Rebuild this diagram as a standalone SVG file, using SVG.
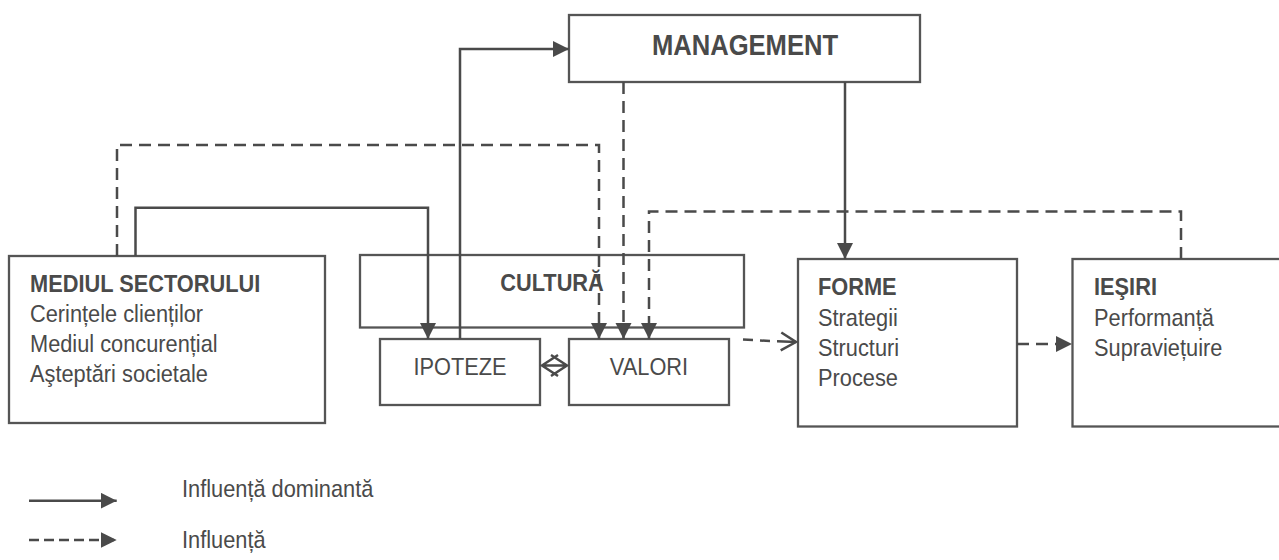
<svg xmlns="http://www.w3.org/2000/svg" width="1279" height="560" viewBox="0 0 1279 560">
<defs>
<style>
.box{fill:#fff;stroke:#555;stroke-width:2.3}
.ln{fill:none;stroke:#4a4a4a;stroke-width:2.5}
.ds{stroke-dasharray:12 7}
.lds{stroke-dasharray:10 5}
.t{font-family:"Liberation Sans",Arial,sans-serif;font-size:21.8px;fill:#4a4a4a}
.b{font-weight:bold}
.m{text-anchor:middle}
</style>
<marker id="ah" markerUnits="userSpaceOnUse" markerWidth="18" markerHeight="17" refX="16" refY="8" orient="auto">
<path d="M0,0 L16,8 L0,16 z" fill="#4a4a4a"/>
</marker>
<marker id="oa" markerUnits="userSpaceOnUse" markerWidth="20" markerHeight="22" refX="16" refY="10" orient="auto">
<path d="M1,1 L16,10 L1,19" fill="none" stroke="#4a4a4a" stroke-width="2.5"/>
</marker>
</defs>
<rect width="1279" height="560" fill="#fff"/>

<g id="management">
<rect class="box" x="569" y="15" width="351" height="67"/>
<text class="t b m" style="font-size:25.6px" transform="matrix(1 0 0 1.15 745 55)">MANAGEMENT</text>
</g>
<g id="mediul">
<rect class="box" x="9" y="256" width="316" height="167"/>
<text class="t b" transform="matrix(1 0 0 1.12 30 292)">MEDIUL SECTORULUI</text>
<text class="t" transform="matrix(1 0 0 1.12 30 322)">Cerințele clienților</text>
<text class="t" transform="matrix(1 0 0 1.12 30 352)">Mediul concurențial</text>
<text class="t" transform="matrix(1 0 0 1.12 30 382)">Aşteptări societale</text>
</g>
<g id="cultura">
<rect class="box" x="360" y="255" width="384" height="72.5"/>
<text class="t b m" transform="matrix(1 0 0 1.12 552 291)">CULTURĂ</text>
</g>
<g id="ipoteze">
<rect class="box" x="380" y="339" width="160" height="66"/>
<text class="t m" transform="matrix(1 0 0 1.12 460 375)">IPOTEZE</text>
</g>
<g id="valori">
<rect class="box" x="569" y="339" width="160" height="66"/>
<text class="t m" transform="matrix(1 0 0 1.12 649 375)">VALORI</text>
</g>
<g id="forme">
<rect class="box" x="798" y="259" width="219" height="167.5"/>
<text class="t b" transform="matrix(1 0 0 1.12 818 295)">FORME</text>
<text class="t" transform="matrix(1 0 0 1.12 818 325.5)">Strategii</text>
<text class="t" transform="matrix(1 0 0 1.12 818 356)">Structuri</text>
<text class="t" transform="matrix(1 0 0 1.12 818 386)">Procese</text>
</g>
<g id="iesiri">
<rect class="box" x="1072.5" y="259" width="230" height="167.5"/>
<text class="t b" transform="matrix(1 0 0 1.12 1094 295)">IEŞIRI</text>
<text class="t" transform="matrix(1 0 0 1.12 1094 325.5)">Performanță</text>
<text class="t" transform="matrix(1 0 0 1.12 1094 356)">Supraviețuire</text>
</g>

<g id="connectors">
<path class="ln" d="M135.5,256 V207.7 H428 V339" marker-end="url(#ah)"/>
<path class="ln ds" d="M117,256 V145 H599 V339" marker-end="url(#ah)"/>
<path class="ln" d="M460,339 V49 H569" marker-end="url(#ah)"/>
<path class="ln ds" d="M623.5,82 V339" marker-end="url(#ah)"/>
<path class="ln" d="M845,82 V259" marker-end="url(#ah)"/>
<path class="ln ds" d="M1181,259 V211.5 H649 V339" marker-end="url(#ah)"/>
<path class="ln" d="M743,339.5 L753,340 M760,340.5 L770,341 M777,341.3 L796,342" marker-end="url(#oa)"/>
<path class="ln ds" d="M1017,344 H1072" marker-end="url(#ah)"/>
<g id="ipoteze-valori">
<path class="ln" d="M542,365.5 H567 M558,355 L542,365.5 L558,376 M551,355 L567,365.5 L551,376"/>
</g>
</g>

<g id="legend">
<path class="ln" d="M29,500.7 H116.7" marker-end="url(#ah)"/>
<path class="ln lds" d="M29,540 H116.7" marker-end="url(#ah)"/>
<text class="t" transform="matrix(1 0 0 1.12 182 497)">Influență dominantă</text>
<text class="t" transform="matrix(1 0 0 1.12 182 548)">Influență</text>
</g>
</svg>
